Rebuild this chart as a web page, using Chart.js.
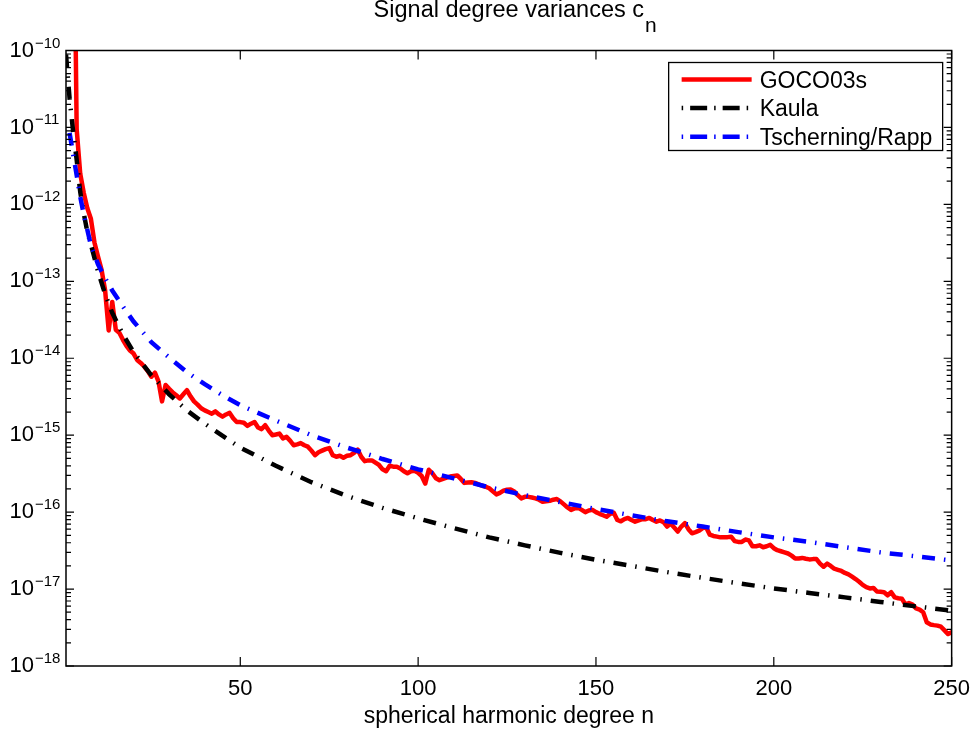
<!DOCTYPE html>
<html>
<head>
<meta charset="utf-8">
<script src="https://cdn.jsdelivr.net/npm/chart.js@4.4.1/dist/chart.umd.min.js"></script>
<style>
html,body{margin:0;padding:0;background:#fff;}
#wrap{width:980px;height:731px;position:relative;}
canvas{display:block;}
</style>
</head>
<body>
<div id="wrap"><canvas id="c" width="980" height="731"></canvas></div>
<script>
// ---------- texts ----------
const chartTitle = 'Signal degree variances c';
const chartTitleSub = 'n';
const xAxisTitle = 'spherical harmonic degree n';
const seriesNames = ['GOCO03s', 'Kaula', 'Tscherning/Rapp'];

// ---------- axes ----------
const xTickValues = [50, 100, 150, 200, 250];
const yTickExponents = [-18, -17, -16, -15, -14, -13, -12, -11, -10];
const yMinorFactors = [2, 3, 4, 5, 6, 7, 8, 9];

// ---------- GOCO03s (degrees 3..250) ----------
const gocoFirstDegree = 3;
const gocoValues = [
  1e-7, 9.5e-12, 2.5e-12, 1.41e-12, 8.9e-13, 6.5e-13, 3.2e-13, 2.1e-13,          // 3-10
  1.41e-13, 7.6e-14, 2.3e-14, 5.4e-14, 2.35e-14, 2.14e-14, 1.74e-14, 1.45e-14, 1.26e-14, 1.15e-14, // 11-20
  9.5e-15, 8.7e-15, 7.8e-15, 6.8e-15, 5.75e-15, 6.5e-15, 5.0e-15, 2.75e-15, 4.5e-15, 4.0e-15,     // 21-30
  3.6e-15, 3.3e-15, 3.0e-15, 3.4e-15, 3.85e-15, 3.2e-15, 2.75e-15, 2.5e-15, 2.24e-15, 2.1e-15,    // 31-40
  2.0e-15, 1.9e-15, 2.04e-15, 1.86e-15, 1.74e-15, 1.86e-15, 1.95e-15, 1.66e-15, 1.48e-15, 1.48e-15, // 41-50
  1.45e-15, 1.32e-15, 1.41e-15, 1.48e-15, 1.26e-15, 1.2e-15, 1.35e-15, 1.15e-15, 1.0e-15, 1.02e-15, // 51-60
  1.05e-15, 9.1e-16, 9.5e-16, 8.5e-16, 7.4e-16, 7.6e-16, 7.9e-16, 7.4e-16, 7.1e-16, 6.3e-16,       // 61-70
  5.5e-16, 6.0e-16, 6.3e-16, 6.6e-16, 6.8e-16, 5.5e-16, 5.25e-16, 5.4e-16, 5.1e-16, 5.4e-16,       // 71-80
  5.5e-16, 5.9e-16, 6.5e-16, 5.25e-16, 4.6e-16, 4.7e-16, 4.7e-16, 4.4e-16, 4.1e-16, 3.6e-16,       // 81-90
  3.4e-16, 4.0e-16, 3.9e-16, 3.9e-16, 3.7e-16, 3.4e-16, 3.2e-16, 3.4e-16, 3.45e-16, 3.25e-16,      // 91-100
  2.95e-16, 2.35e-16, 3.55e-16, 3.2e-16, 2.75e-16, 2.6e-16, 2.7e-16, 2.8e-16, 2.9e-16, 2.95e-16,   // 101-110
  3.0e-16, 2.7e-16, 2.4e-16, 2.43e-16, 2.45e-16, 2.4e-16, 2.3e-16, 2.2e-16, 2.14e-16, 2.04e-16,    // 111-120
  1.86e-16, 1.7e-16, 1.78e-16, 1.9e-16, 1.95e-16, 1.97e-16, 1.86e-16, 1.66e-16, 1.51e-16, 1.58e-16, // 121-130
  1.58e-16, 1.55e-16, 1.51e-16, 1.45e-16, 1.36e-16, 1.38e-16, 1.4e-16, 1.45e-16, 1.48e-16, 1.38e-16, // 131-140
  1.26e-16, 1.15e-16, 1.07e-16, 1.12e-16, 1.135e-16, 1.07e-16, 1.0e-16, 1.05e-16, 1.07e-16, 1.0e-16, // 141-150
  9.5e-17, 9.1e-17, 8.7e-17, 9.5e-17, 9.8e-17, 7.9e-17, 7.6e-17, 8.1e-17, 8.4e-17, 7.9e-17,        // 151-160
  7.5e-17, 7.8e-17, 8.1e-17, 8.1e-17, 8.4e-17, 7.9e-17, 7.5e-17, 7.8e-17, 7.4e-17, 6.5e-17,        // 161-170
  7.1e-17, 6.3e-17, 5.6e-17, 6.5e-17, 7.2e-17, 6.0e-17, 5.3e-17, 5.5e-17, 5.75e-17, 6.2e-17,       // 171-180
  6.3e-17, 5.1e-17, 4.9e-17, 4.8e-17, 4.7e-17, 4.7e-17, 4.73e-17, 4.8e-17, 4.2e-17, 4.1e-17,       // 181-190
  4.1e-17, 4.4e-17, 4.3e-17, 3.6e-17, 3.6e-17, 3.7e-17, 3.5e-17, 3.6e-17, 3.76e-17, 3.4e-17,       // 191-200
  3.2e-17, 3.1e-17, 3.0e-17, 2.9e-17, 2.72e-17, 2.5e-17, 2.5e-17, 2.54e-17, 2.48e-17, 2.43e-17,    // 201-210
  2.45e-17, 2.45e-17, 2.14e-17, 1.95e-17, 2.14e-17, 2.0e-17, 1.84e-17, 1.78e-17, 1.72e-17, 1.62e-17, // 211-220
  1.55e-17, 1.45e-17, 1.35e-17, 1.245e-17, 1.135e-17, 1.06e-17, 1.02e-17, 1.035e-17, 9.3e-18, 9.2e-18, // 221-230
  9.1e-18, 8.3e-18, 9.1e-18, 7.8e-18, 7.6e-18, 7.5e-18, 6.3e-18, 6.6e-18, 6.3e-18, 5.6e-18,        // 231-240
  5.4e-18, 5.0e-18, 3.7e-18, 3.47e-18, 3.4e-18, 3.35e-18, 3.24e-18, 2.9e-18, 2.6e-18, 2.75e-18     // 241-250
];

// ---------- Kaula ----------
const kaulaDegrees = [1, 2, 3, 4, 5, 6, 7, 8, 10, 12, 14, 17, 20, 25, 30, 35, 40, 50, 60, 70, 80, 90, 100,
  110, 120, 130, 140, 150, 160, 170, 180, 190, 200, 210, 220, 230, 240, 250];
const kaulaValues = [8.9e-11, 2.4e-11, 8.9e-12, 3.8e-12, 1.45e-12, 7.6e-13, 4.4e-13, 3.0e-13, 1.35e-13,
  6.8e-14, 3.9e-14, 2.04e-14, 1.2e-14, 6.0e-15, 3.4e-15, 2.1e-15, 1.41e-15, 6.9e-16, 4.0e-16, 2.45e-16,
  1.62e-16, 1.135e-16, 8.3e-17, 6.2e-17, 4.7e-17, 3.7e-17, 2.95e-17, 2.4e-17, 2.0e-17, 1.66e-17, 1.4e-17,
  1.19e-17, 1.02e-17, 8.9e-18, 7.8e-18, 6.8e-18, 5.95e-18, 5.25e-18];

// ---------- Tscherning/Rapp ----------
const trDegrees = [2, 3, 4, 5, 6, 8, 10, 12, 14, 17, 20, 25, 30, 35, 40, 45, 50, 60, 70, 80, 90, 100,
  110, 120, 130, 140, 150, 160, 170, 180, 190, 200, 210, 220, 230, 240, 250];
const trValues = [8.5e-12, 4.5e-12, 2.4e-12, 1.26e-12, 7.4e-13, 2.95e-13, 1.66e-13, 1.1e-13, 7.6e-14,
  4.7e-14, 3.0e-14, 1.62e-14, 1.02e-14, 6.6e-15, 4.6e-15, 3.3e-15, 2.45e-15, 1.55e-15, 1.0e-15, 6.9e-16,
  4.9e-16, 3.6e-16, 2.75e-16, 2.1e-16, 1.66e-16, 1.35e-16, 1.1e-16, 9.1e-17, 7.6e-17, 6.5e-17, 5.5e-17,
  4.7e-17, 4.1e-17, 3.5e-17, 3.0e-17, 2.66e-17, 2.35e-17];

// ---------- styles ----------
const seriesColors = ['#ff0000', '#000000', '#0000ff'];
const dashDot = [13, 9, 1.5, 9];
const legendDashDot = [17, 7, 1.5, 7];
const FONT = "'Liberation Sans', Arial, Helvetica, sans-serif";

Chart.defaults.font.family = FONT;
Chart.defaults.color = '#000';

const gocoData = gocoValues.map((v, i) => ({x: gocoFirstDegree + i, y: v}));
const kaulaData = kaulaDegrees.map((n, i) => ({x: n, y: kaulaValues[i]}));
const trData = trDegrees.map((n, i) => ({x: n, y: trValues[i]}));

const framePlugin = {
  id: 'framePlugin',
  afterDatasetsDraw(chart) {
    const {ctx, chartArea: a, scales: {x, y}} = chart;
    ctx.save();
    ctx.strokeStyle = '#000';
    ctx.lineWidth = 1.2;
    ctx.setLineDash([]);
    ctx.beginPath();
    yTickExponents.forEach((e, idx) => {
      const py = y.getPixelForValue(Math.pow(10, e));
      ctx.moveTo(a.left, py); ctx.lineTo(a.left + 8, py);
      ctx.moveTo(a.right, py); ctx.lineTo(a.right - 8, py);
      if (idx < yTickExponents.length - 1) {
        yMinorFactors.forEach(k => {
          const pm = y.getPixelForValue(k * Math.pow(10, e));
          ctx.moveTo(a.left, pm); ctx.lineTo(a.left + 5, pm);
          ctx.moveTo(a.right, pm); ctx.lineTo(a.right - 5, pm);
        });
      }
    });
    xTickValues.forEach(v => {
      const px = x.getPixelForValue(v);
      ctx.moveTo(px, a.bottom); ctx.lineTo(px, a.bottom - 9);
      ctx.moveTo(px, a.top); ctx.lineTo(px, a.top + 9);
    });
    ctx.stroke();
    ctx.lineWidth = 1.5;
    ctx.strokeRect(a.left, a.top, a.right - a.left, a.bottom - a.top);
    ctx.restore();
  }
};

const decorPlugin = {
  id: 'decorPlugin',
  afterDraw(chart) {
    const {ctx, chartArea: a, scales: {y}} = chart;
    ctx.save();
    ctx.fillStyle = '#000';
    // exponents of the y tick labels (superscripts after "10")
    ctx.font = '15px ' + FONT;
    ctx.textAlign = 'left';
    ctx.textBaseline = 'alphabetic';
    yTickExponents.forEach(e => {
      const py = y.getPixelForValue(Math.pow(10, e));
      ctx.fillText('\u2212' + String(Math.abs(e)), 35, py - 3);
    });

    // subscript of the title
    const tb = chart.titleBlock;
    ctx.font = '23.5px ' + FONT;
    const w = ctx.measureText(chartTitle).width;
    const cx = (tb.left + tb.right) / 2;
    const midY = tb.top - 1 + 11.75;
    ctx.font = '21px ' + FONT;
    ctx.textAlign = 'left';
    ctx.textBaseline = 'middle';
    ctx.fillText(chartTitleSub, cx + w / 2 + 1, midY + 15);

    // legend
    const bx = a.right - 283, by = a.top + 12, bw = 274, bh = 88;
    ctx.fillStyle = '#fff';
    ctx.fillRect(bx, by, bw, bh);
    ctx.strokeStyle = '#000';
    ctx.lineWidth = 1.3;
    ctx.strokeRect(bx, by, bw, bh);
    ctx.font = '23px ' + FONT;
    chart.data.datasets.forEach((ds, i) => {
      const ly = by + 17 + i * 28.6;
      ctx.save();
      ctx.strokeStyle = ds.borderColor;
      ctx.lineWidth = ds.borderWidth;
      ctx.lineCap = 'butt';
      if (ds.borderDash && ds.borderDash.length) {
        ctx.setLineDash(legendDashDot);
        ctx.lineDashOffset = legendDashDot[0] + legendDashDot[1];
      } else {
        ctx.setLineDash([]);
      }
      ctx.beginPath();
      ctx.moveTo(bx + 13, ly);
      ctx.lineTo(bx + 83, ly);
      ctx.stroke();
      ctx.restore();
      ctx.fillStyle = '#000';
      ctx.textAlign = 'left';
      ctx.textBaseline = 'middle';
      ctx.fillText(ds.label, bx + 91, ly + 2);
    });
    ctx.restore();
  }
};

new Chart(document.getElementById('c'), {
  type: 'line',
  data: {
    datasets: [
      {label: seriesNames[0], data: gocoData, borderColor: seriesColors[0], borderWidth: 4.5,
       pointRadius: 0, tension: 0, fill: false, order: 3, borderJoinStyle: 'round', borderCapStyle: 'round'},
      {label: seriesNames[1], data: kaulaData, borderColor: seriesColors[1], borderWidth: 4.5,
       borderDash: dashDot, pointRadius: 0, tension: 0, fill: false, order: 2, borderCapStyle: 'butt'},
      {label: seriesNames[2], data: trData, borderColor: seriesColors[2], borderWidth: 4.5,
       borderDash: dashDot, pointRadius: 0, tension: 0, fill: false, order: 1, borderCapStyle: 'butt'}
    ]
  },
  options: {
    responsive: false,
    animation: false,
    devicePixelRatio: 1,
    layout: {padding: {left: 0, right: 20, top: 0, bottom: 0}},
    plugins: {
      legend: {display: false},
      tooltip: {enabled: false},
      title: {
        display: true, text: chartTitle, fullSize: false, color: '#000',
        font: {size: 23.5, weight: 'normal', lineHeight: 1},
        padding: {top: -1, bottom: 28}
      }
    },
    scales: {
      x: {
        type: 'linear', min: 1, max: 250,
        afterBuildTicks: s => { s.ticks = xTickValues.map(v => ({value: v})); },
        afterFit: s => { s.height = 65; },
        grid: {display: false, drawTicks: false},
        border: {display: false},
        ticks: {autoSkip: false, maxRotation: 0, padding: 10, font: {size: 22}, color: '#000'},
        title: {display: true, text: xAxisTitle, color: '#000', font: {size: 23, lineHeight: 1.2},
                padding: {top: 0, bottom: 1}}
      },
      y: {
        type: 'logarithmic', min: 1e-18, max: 1e-10,
        afterBuildTicks: s => { s.ticks = yTickExponents.map(e => ({value: Math.pow(10, e)})); },
        afterFit: s => { s.width = 66; },
        grid: {display: false, drawTicks: false},
        border: {display: false},
        ticks: {autoSkip: false, padding: 32, font: {size: 22}, color: '#000',
                callback: () => '10'}
      }
    }
  },
  plugins: [framePlugin, decorPlugin]
});
</script>
</body>
</html>
